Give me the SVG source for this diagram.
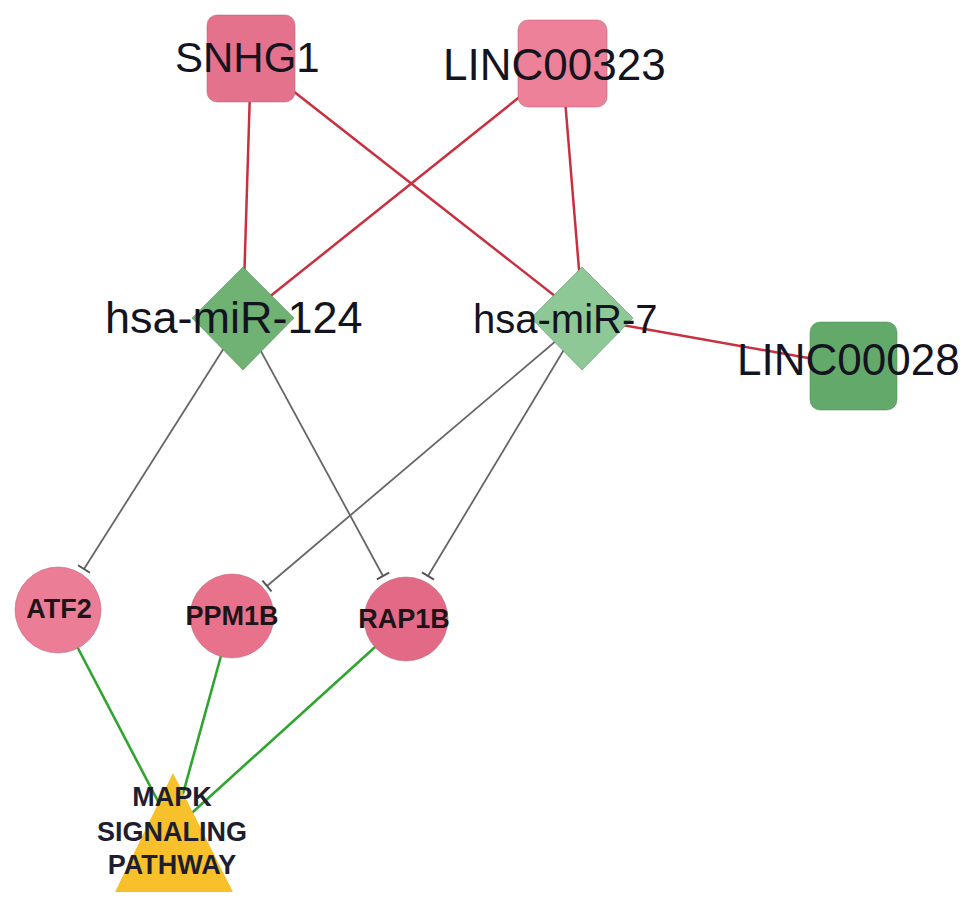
<svg xmlns="http://www.w3.org/2000/svg" width="969" height="908" viewBox="0 0 969 908">
<defs>
<style>
.red{stroke:#c9303f;stroke-width:2.5;fill:none}
.grey{stroke:#666666;stroke-width:1.8;fill:none;marker-end:url(#tbar)}
.green{stroke:#2fa52f;stroke-width:2.6;fill:none}
.big{font-family:"Liberation Sans",Arial,sans-serif;font-size:43px;fill:#141420}
.small{font-family:"Liberation Sans",Arial,sans-serif;font-size:27px;font-weight:bold;fill:#1e1418;text-anchor:middle}
.path{font-family:"Liberation Sans",Arial,sans-serif;font-size:27px;font-weight:bold;fill:#1e1e30;text-anchor:middle}
.pink{stroke:#b85c70;stroke-width:1;stroke-opacity:0.5}
.grn{stroke:#4e8a55;stroke-width:1;stroke-opacity:0.5}
</style>
<marker id="tbar" viewBox="0 -8 4 16" refX="2" refY="0" markerWidth="4" markerHeight="16" markerUnits="userSpaceOnUse" orient="auto">
<line x1="2" y1="-7" x2="2" y2="7" stroke="#555" stroke-width="2"/>
</marker>
</defs>
<rect width="969" height="908" fill="#ffffff"/>
<g id="connectors">
<line class="red" x1="251" y1="58" x2="243" y2="318"/>
<line class="red" x1="251" y1="58" x2="583" y2="318"/>
<line class="red" x1="562" y1="63" x2="243" y2="318"/>
<line class="red" x1="562" y1="63" x2="583" y2="318"/>
<line class="red" x1="583" y1="318" x2="853" y2="366"/>
<line class="grey" x1="243" y1="318" x2="84" y2="569"/>
<line class="grey" x1="243" y1="318" x2="383" y2="576"/>
<line class="grey" x1="583" y1="318" x2="267" y2="586"/>
<line class="grey" x1="583" y1="318" x2="428" y2="576"/>
<line class="green" x1="58" y1="610" x2="173" y2="830"/>
<line class="green" x1="232" y1="616" x2="173" y2="830"/>
<line class="green" x1="406" y1="619" x2="173" y2="830"/>
</g>
<g id="SNHG1">
<rect x="207" y="15" width="88" height="87" rx="10" fill="#e5728c" class="pink"/>
<text x="175" y="72" class="big" style="font-size:42px">SNHG1</text>
</g>
<g id="LINC00323">
<rect x="518" y="20" width="89" height="87" rx="10" fill="#ec8199" class="pink"/>
<text x="443" y="80" class="big" style="font-size:44px">LINC00323</text>
</g>
<g id="hsa-miR-124">
<polygon points="243,267 294,318 243,370 192,318" fill="#6fb273" class="grn"/>
<text x="105" y="333" class="big" style="font-size:45px">hsa-miR-124</text>
</g>
<g id="hsa-miR-7">
<polygon points="582,267 633,318 582,370 531,318" fill="#8fc897" class="grn"/>
<text x="473" y="333" class="big" style="font-size:40px">hsa-miR-7</text>
</g>
<g id="LINC00028">
<rect x="810" y="322" width="87" height="88" rx="10" fill="#62a96a" class="grn"/>
<text x="737" y="375" class="big" style="font-size:44px">LINC00028</text>
</g>
<g id="ATF2">
<circle cx="58" cy="610" r="43" fill="#eb7d96" class="pink"/>
<text x="59" y="618" class="small">ATF2</text>
</g>
<g id="PPM1B">
<circle cx="232" cy="616" r="42" fill="#e8718b" class="pink"/>
<text x="232" y="625" class="small">PPM1B</text>
</g>
<g id="RAP1B">
<circle cx="406" cy="619" r="42" fill="#e36a86" class="pink"/>
<text x="404" y="628" class="small">RAP1B</text>
</g>
<g id="MAPK">
<polygon points="173,773 233,892 115,892" fill="#f8c12c"/>
<text x="172" y="806" class="path">MAPK</text>
<text x="172" y="841" class="path">SIGNALING</text>
<text x="172" y="874" class="path">PATHWAY</text>
</g>
</svg>
